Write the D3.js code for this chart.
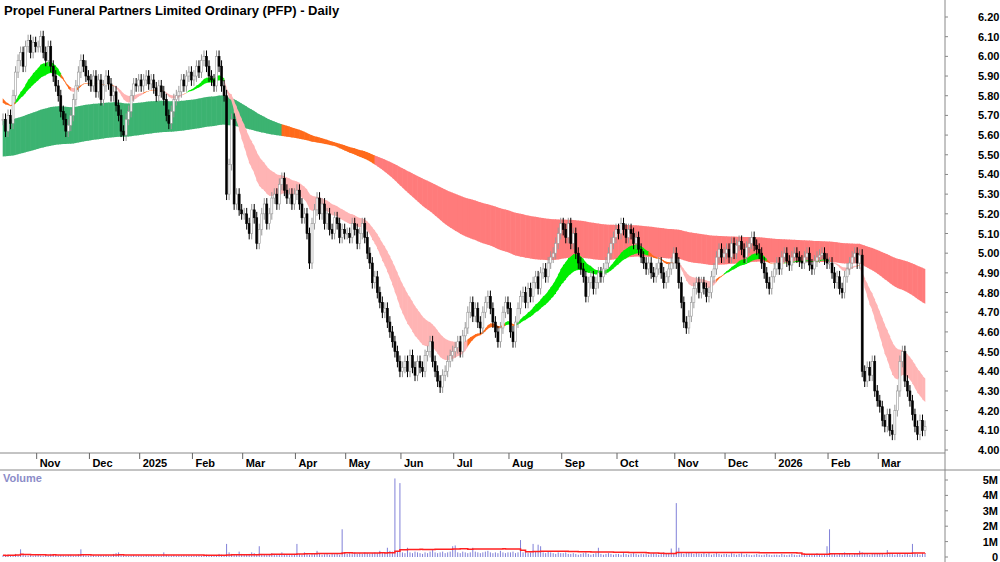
<!DOCTYPE html>
<html><head><meta charset="utf-8">
<script src="https://cdn.jsdelivr.net/npm/d3@7"></script>
<style>body{margin:0;background:#fff}text{font-family:"Liberation Sans",Arial,sans-serif}</style>
</head><body><div id="chart"></div>
<script>
// daily closes, grouped by month (first group is the part of Oct 2024)
var monthLabels = ['', 'Nov', 'Dec', '2025', 'Feb', 'Mar', 'Apr', 'May', 'Jun', 'Jul', 'Aug', 'Sep', 'Oct', 'Nov', 'Dec', '2026', 'Feb', 'Mar'];
var closesByMonth = [
  [5.68,5.62,5.70,5.66,5.80,5.92,5.98,6.02,5.95,6.05,6.08,6.02,6.07,6.05],
  [6.05,6.10,6.02,5.98,6.05,5.95,5.90,5.85,5.80,5.72,5.68,5.62,5.65,5.70,5.78,5.85,5.92,5.98,5.95,5.90,5.88],
  [5.85,5.90,5.82,5.88,5.78,5.85,5.90,5.86,5.80,5.82,5.75,5.70,5.62,5.60,5.68,5.72,5.80,5.86,5.85,5.88],
  [5.85,5.88,5.90,5.86,5.88,5.84,5.80,5.85,5.82,5.78,5.70,5.66,5.72,5.78,5.80,5.82,5.88,5.85,5.90,5.92,5.88],
  [5.90,5.95,5.92,5.98,6.00,5.95,5.90,5.88,5.85,6.00,5.95,5.85,5.80,5.30,5.45,5.68,5.25,5.30,5.22,5.20],
  [5.20,5.15,5.10,5.22,5.18,5.05,5.12,5.20,5.25,5.15,5.20,5.28,5.30,5.25,5.35,5.38,5.32,5.28,5.30,5.25,5.30],
  [5.32,5.25,5.18,5.20,5.10,4.95,5.15,5.22,5.28,5.20,5.25,5.15,5.20,5.12,5.10,5.18,5.15,5.08,5.12,5.10],
  [5.10,5.08,5.15,5.12,5.05,5.10,5.15,5.08,5.00,4.95,4.85,4.88,4.80,4.75,4.70,4.72,4.65,4.60,4.55,4.50,4.45,4.40],
  [4.42,4.45,4.40,4.48,4.42,4.38,4.45,4.42,4.40,4.48,4.50,4.55,4.45,4.40,4.35,4.32,4.38,4.40,4.45,4.48,4.50],
  [4.52,4.55,4.50,4.58,4.62,4.70,4.75,4.68,4.72,4.65,4.62,4.70,4.75,4.78,4.72,4.65,4.60,4.55,4.62,4.70,4.75,4.72],
  [4.60,4.55,4.65,4.72,4.78,4.80,4.75,4.82,4.78,4.85,4.88,4.82,4.90,4.92,4.88,4.95,4.98,5.00,5.05,5.10,5.15],
  [5.12,5.08,5.15,5.05,5.10,5.00,4.95,4.92,4.88,4.78,4.85,4.88,4.82,4.85,4.90,4.88,4.92,4.95,5.00,5.05,5.08,5.12],
  [5.10,5.15,5.12,5.08,5.12,5.10,5.05,5.08,5.02,4.98,4.95,4.92,4.95,4.90,4.88,4.92,4.95,4.90,4.85,4.88,4.92,4.95,5.00],
  [4.95,4.85,4.75,4.65,4.62,4.68,4.75,4.82,4.85,4.80,4.85,4.82,4.78,4.80,4.88,4.92,4.98,5.02,4.98,5.00],
  [5.02,4.98,5.05,5.00,5.04,5.06,5.02,4.98,5.03,5.05,5.08,5.04,5.02,5.00,4.95,4.90,4.85,4.82,4.88,4.92],
  [4.95,4.92,4.98,5.00,4.96,4.94,4.98,5.00,4.98,4.96,4.95,4.98,5.00,4.94,4.92,4.96,4.98,4.99,5.00,4.97,4.95],
  [4.95,4.90,4.85,4.88,4.82,4.80,4.88,4.92,4.95,4.98,5.00,4.95,4.99,4.40,4.35,4.42,4.38,4.45,4.30,4.25],
  [4.22,4.15,4.12,4.18,4.10,4.08,4.20,4.30,4.45,4.50,4.35,4.30,4.25,4.18,4.12,4.08,4.15,4.10,4.12]
];
// daily volume in thousands, same grouping
var volumeByMonth = [
  [120,90,150,100,80,200,130,500,150,100,90,120,80,110],
  [150,100,80,120,90,200,150,110,90,130,100,80,120,150,90,100,180,500,120,100,90],
  [90,110,80,100,130,90,120,80,100,200,250,300,150,90,80,60,100,120,90,100],
  [100,80,120,90,110,130,80,100,90,300,150,100,90,120,80,100,90,110,80,100,90],
  [100,90,120,80,100,150,110,90,100,130,200,150,120,850,300,200,150,180,350,200],
  [180,150,200,300,250,150,700,200,150,120,180,250,200,150,180,300,200,150,120,180,200],
  [850,200,150,300,200,150,250,180,400,200,150,180,200,150,250,180,200,150,1800,300],
  [200,250,180,300,200,250,200,300,250,200,250,300,250,400,300,250,600,400,350,5100,400,4800],
  [300,250,600,300,250,350,300,250,200,300,250,350,450,300,250,300,350,250,300,350,700],
  [750,300,250,350,300,250,300,600,350,300,250,300,350,400,300,250,300,250,400,300,250,300],
  [300,350,250,300,1100,300,350,250,300,850,350,800,700,300,250,350,300,250,200,300,250],
  [250,300,200,200,250,200,150,200,250,300,200,150,200,250,600,200,150,200,250,200,150,200],
  [200,150,250,200,150,200,250,200,150,200,180,200,150,200,250,200,150,200,300,250,200,550,200],
  [3500,600,250,200,250,300,250,200,250,230,200,250,200,250,150,200,250,200,150,200],
  [200,150,250,200,150,200,250,150,200,150,120,150,200,150,120,150,200,150,120,150],
  [150,120,200,150,120,150,200,150,120,150,200,150,120,150,200,150,250,150,120,150,700],
  [1800,200,250,150,200,250,300,250,200,150,250,200,400,300,250,200,150,200,250,200],
  [250,200,150,450,250,200,150,250,200,150,250,200,150,850,250,200,150,250,200]
];
// GMMA-style ribbons on daily bars
var shortPeriods = [18, 20, 22, 25, 28, 32];
var longPeriods = [150, 175, 200, 225, 250, 300];
var shortSeeds = [5.80, 5.79, 5.79, 5.78, 5.78, 5.77];
var longSeeds = [5.68, 5.64, 5.60, 5.57, 5.53, 5.49];
var priceTicks = d3.range(0, 23).map(function(i) { return +(4 + i * 0.1).toFixed(2); });
var volumeTicks = [0, 1, 2, 3, 4, 5];

var W = 1000, H = 562, plotRight = 945;
var svg = d3.select('#chart').append('svg').attr('width', W).attr('height', H);

var bars = [], monthStarts = [];
closesByMonth.forEach(function(m, mi) {
  monthStarts.push(bars.length);
  m.forEach(function(c, j) {
    bars.push({ c: c, v: volumeByMonth[mi][j] / 1000 });
  });
});
bars.forEach(function(b, i) {
  b.o = i === 0 ? b.c : bars[i - 1].c;
  b.h = Math.max(b.o, b.c) + 0.03;
  b.l = Math.min(b.o, b.c) - 0.03;
});

function emaGroup(periods, seeds) {
  var cur = seeds.slice();
  return bars.map(function(b) {
    cur = cur.map(function(e, k) { var a = 2 / (periods[k] + 1); return e + a * (b.c - e); });
    return cur.slice();
  });
}
var shortE = emaGroup(shortPeriods, shortSeeds);
var longE = emaGroup(longPeriods, longSeeds);

var x = d3.scaleLinear().domain([0, bars.length - 1]).range([3, 925]);
var y = d3.scaleLinear().domain([4.0, 6.2]).range([450, 17]);
var yv = d3.scaleLinear().domain([0, 5]).range([557, 480]);

function state(e) {
  var up = true, dn = true;
  for (var k = 0; k < e.length - 1; k++) {
    if (e[k] < e[k + 1]) up = false;
    if (e[k] > e[k + 1]) dn = false;
  }
  return up ? 'up' : dn ? 'dn' : 'mix';
}
function drawBand(group, colors) {
  var g = svg.append('g');
  for (var i = 1; i < bars.length; i++) {
    var a = group[i - 1], b = group[i];
    var col = colors[state(b)];
    var pts = [[x(i - 1) - 0.3, y(d3.max(a))], [x(i) + 0.3, y(d3.max(b))],
               [x(i) + 0.3, y(d3.min(b))], [x(i - 1) - 0.3, y(d3.min(a))]];
    g.append('path').attr('d', 'M' + pts.join('L') + 'Z').attr('fill', col);
  }
}
drawBand(longE, { up: '#3cb371', dn: '#ff7b7b', mix: '#ff6a1a' });
drawBand(shortE, { up: '#00ee00', dn: '#ffb4b4', mix: '#ff6a1a' });

// candles
var cg = svg.append('g');
bars.forEach(function(b, i) {
  var up = b.c >= b.o, col = up ? '#999' : '#000';
  cg.append('line').attr('x1', x(i)).attr('x2', x(i)).attr('y1', y(b.h)).attr('y2', y(b.l))
    .attr('stroke', col).attr('stroke-width', 1);
  var top = y(Math.max(b.o, b.c)), bot = y(Math.min(b.o, b.c));
  cg.append('rect').attr('x', x(i) - 1).attr('y', top).attr('width', 2).attr('height', Math.max(1, bot - top))
    .attr('fill', up ? '#fff' : '#000').attr('stroke', col).attr('stroke-width', 0.6);
});

// frame lines
svg.append('line').attr('x1', plotRight).attr('x2', plotRight).attr('y1', 0).attr('y2', H).attr('stroke', '#888');
svg.append('line').attr('x1', 0).attr('x2', plotRight).attr('y1', 453).attr('y2', 453).attr('stroke', '#888');
svg.append('line').attr('x1', 0).attr('x2', W).attr('y1', 470).attr('y2', 470).attr('stroke', '#888');

svg.append('text').attr('x', 4).attr('y', 15).attr('font-size', 13).attr('font-weight', 'bold')
  .text('Propel Funeral Partners Limited Ordinary (PFP) - Daily');

// price axis
priceTicks.forEach(function(p) {
  svg.append('line').attr('x1', plotRight).attr('x2', plotRight + 3).attr('y1', y(p)).attr('y2', y(p)).attr('stroke', '#888');
  svg.append('text').attr('x', 978).attr('y', y(p) + 4).attr('font-size', 11).attr('font-weight', 'bold')
    .text(p.toFixed(2));
});

// month axis
monthStarts.forEach(function(s, mi) {
  if (!monthLabels[mi]) return;
  var xx = x(s) - 1.5;
  svg.append('line').attr('x1', xx).attr('x2', xx).attr('y1', 453).attr('y2', 459).attr('stroke', '#666');
  svg.append('text').attr('x', xx + 3).attr('y', 467).attr('font-size', 11).attr('font-weight', 'bold')
    .text(monthLabels[mi]);
});

// volume
svg.append('text').attr('x', 3).attr('y', 482).attr('font-size', 11).attr('font-weight', 'bold')
  .attr('fill', '#8c8cc8').text('Volume');
var vg = svg.append('g');
bars.forEach(function(b, i) {
  vg.append('line').attr('x1', x(i)).attr('x2', x(i)).attr('y1', yv(0)).attr('y2', yv(b.v))
    .attr('stroke', '#8080d8').attr('stroke-width', 1);
});
var vma = bars.map(function(b, i) {
  var s = bars.slice(Math.max(0, i - 49), i + 1);
  return d3.mean(s, function(d) { return d.v; });
});
svg.append('path').datum(vma).attr('fill', 'none').attr('stroke', '#ff2020').attr('stroke-width', 1.5)
  .attr('d', d3.line().x(function(d, i) { return x(i); }).y(function(d) { return yv(d); }).curve(d3.curveStepAfter));
volumeTicks.forEach(function(v) {
  svg.append('line').attr('x1', plotRight).attr('x2', plotRight + 3).attr('y1', yv(v)).attr('y2', yv(v)).attr('stroke', '#888');
  svg.append('text').attr('x', 998).attr('y', yv(v) + 4).attr('font-size', 11).attr('font-weight', 'bold')
    .attr('text-anchor', 'end').text(v === 0 ? '0' : v + 'M');
});
</script></body></html>
